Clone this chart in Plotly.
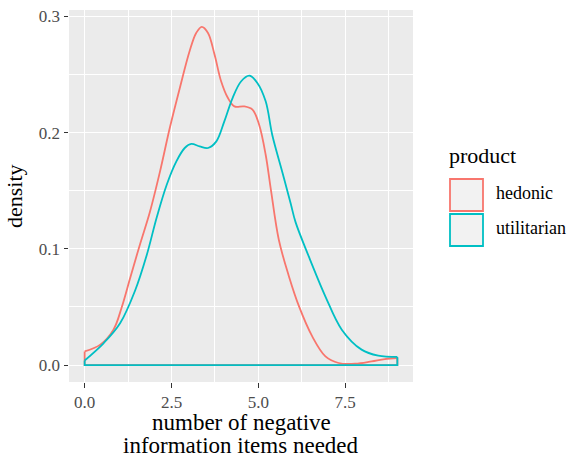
import plotly.graph_objects as go

# ---- data ----
products = ["hedonic", "utilitarian"]
colors = ["#F8766D", "#00BFC4"]

hedonic_x = [0.0, 0.45, 0.83, 1.07, 1.31, 1.59, 1.88, 2.17, 2.45, 2.74, 3.02, 3.21, 3.37,
             3.55, 3.74, 3.93, 4.12, 4.31, 4.59, 4.83, 5.02, 5.21, 5.36, 5.59, 5.88,
             6.17, 6.55, 6.93, 7.31, 7.79, 8.26, 8.64, 9.0]
hedonic_y = [0.0118, 0.0176, 0.0305, 0.050, 0.075, 0.1036, 0.132, 0.1667, 0.204, 0.2385,
             0.270, 0.2858, 0.291, 0.2858, 0.267, 0.244, 0.230, 0.2226, 0.2226, 0.2198,
             0.207, 0.181, 0.151, 0.1076, 0.0763, 0.0505, 0.0247, 0.0075, 0.0018, 0.0012,
             0.0032, 0.0052, 0.0061]

utilitarian_x = [0.0, 0.55, 1.02, 1.45, 1.79, 2.07, 2.36, 2.64, 2.88, 3.07, 3.31, 3.55,
                 3.79, 4.02, 4.26, 4.50, 4.74, 4.97, 5.21, 5.40, 5.69, 5.93, 6.07, 6.45,
                 6.93, 7.40, 7.97, 8.45, 9.0]
utilitarian_y = [0.004, 0.019, 0.036, 0.064, 0.095, 0.1266, 0.155, 0.1753, 0.1868, 0.1903,
                 0.1882, 0.1868, 0.1925, 0.2097, 0.230, 0.244, 0.249, 0.2428, 0.227, 0.198,
                 0.166, 0.139, 0.123, 0.0935, 0.059, 0.0305, 0.0133, 0.0081, 0.007]

x_ticks = [0.0, 2.5, 5.0, 7.5]
y_ticks = [0.0, 0.1, 0.2, 0.3]

series = [(hedonic_x, hedonic_y), (utilitarian_x, utilitarian_y)]

FONT = "Liberation Serif"
W, H = 568, 460
L, R, T, B = 69, 413, 10, 382   # panel pixel box

fig = go.Figure()
for (xs, ys), name, col in zip(series, products, colors):
    # density curve
    fig.add_trace(go.Scatter(x=xs, y=ys, mode="lines", name=name,
                             line=dict(color=col, width=1.8, shape="spline", smoothing=1.0),
                             showlegend=False, hoverinfo="skip"))
    # closing edges of the density polygon (down, along baseline, up)
    fig.add_trace(go.Scatter(x=[xs[-1], xs[-1], xs[0], xs[0]],
                             y=[ys[-1], 0, 0, ys[0]], mode="lines",
                             line=dict(color=col, width=1.8), showlegend=False,
                             hoverinfo="skip"))

xmin, xmax = min(hedonic_x + utilitarian_x), max(hedonic_x + utilitarian_x)
ymax = max(hedonic_y + utilitarian_y)
xpad = (xmax - xmin) * 0.05
ypad = ymax * 0.05

def px_x(p):
    return (p - L) / (R - L)

def px_y(p):
    return (B - p) / (B - T)

shapes = []
annotations = []
# legend (ggplot style keys)
annotations.append(dict(x=px_x(447), y=px_y(155), xref="paper", yref="paper",
                        text="product", showarrow=False, xanchor="left", yanchor="middle",
                        font=dict(family=FONT, size=22, color="#000000")))
key_tops = [178, 213]
for i, (name, col) in enumerate(zip(products, colors)):
    t = key_tops[i]
    shapes.append(dict(type="rect", xref="paper", yref="paper",
                       x0=px_x(450), x1=px_x(483), y0=px_y(t + 33), y1=px_y(t + 1),
                       fillcolor="#F2F2F2", line=dict(color=col, width=1.8), layer="above"))
    annotations.append(dict(x=px_x(494), y=px_y(t + 15), xref="paper", yref="paper",
                            text=name, showarrow=False, xanchor="left", yanchor="middle",
                            font=dict(family=FONT, size=18, color="#000000")))

# axis titles
annotations.append(dict(x=px_x(14), y=0.5, xref="paper", yref="paper", text="density",
                        showarrow=False, textangle=-90, xanchor="center", yanchor="middle",
                        font=dict(family=FONT, size=22, color="#000000")))
for line, top in [("number of negative", 408), ("information items needed", 431)]:
    annotations.append(dict(x=0.5, y=px_y(top), xref="paper", yref="paper",
                            text=line, showarrow=False, xanchor="center", yanchor="top",
                            font=dict(family=FONT, size=23, color="#000000")))

fig.update_layout(
    width=W, height=H,
    margin=dict(l=L, r=W - R, t=T, b=H - B, autoexpand=False),
    paper_bgcolor="white", plot_bgcolor="#EBEBEB",
    showlegend=False,
    shapes=shapes, annotations=annotations,
    font=dict(family=FONT),
)
fig.update_xaxes(range=[xmin - xpad, xmax + xpad], tickvals=x_ticks,
                 ticktext=[f"{v:.1f}" for v in x_ticks],
                 showgrid=True, gridcolor="white", gridwidth=1.2, zeroline=False,
                 ticks="outside", ticklen=4.5, tickwidth=1.1, tickcolor="#333333",
                 tickfont=dict(family=FONT, size=17, color="#4D4D4D"),
                 minor=dict(tickvals=[1.25, 3.75, 6.25, 8.75], showgrid=True,
                            gridcolor="white", gridwidth=0.6, ticks=""),
                 showline=False, automargin=False, fixedrange=True)
fig.update_yaxes(range=[-ypad, ymax + ypad], tickvals=y_ticks,
                 ticktext=[f"{v:.1f}" for v in y_ticks],
                 showgrid=True, gridcolor="white", gridwidth=1.2, zeroline=False,
                 ticks="outside", ticklen=4.5, tickwidth=1.1, tickcolor="#333333",
                 tickfont=dict(family=FONT, size=17, color="#4D4D4D"),
                 minor=dict(tickvals=[0.05, 0.15, 0.25], showgrid=True,
                            gridcolor="white", gridwidth=0.6, ticks=""),
                 showline=False, automargin=False, fixedrange=True)

fig.write_html("out.html", config={"displayModeBar": False},
               post_script="document.body.style.margin='0px';")
